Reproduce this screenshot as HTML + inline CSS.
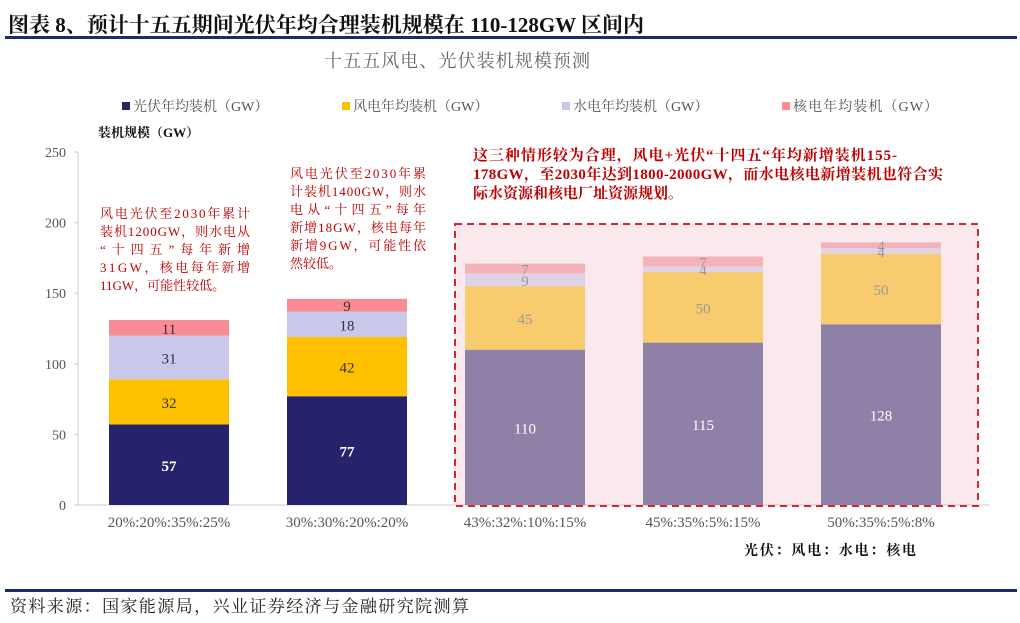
<!DOCTYPE html>
<html><head><meta charset="utf-8"><style>
body{margin:0;background:#fff;width:1020px;height:623px;overflow:hidden;font-family:"Liberation Serif","Noto Serif CJK SC",serif}
svg{position:absolute;left:0;top:0}
</style></head><body>
<svg width="1020" height="623">
<text x="8" y="32" font-size="21" font-weight="bold" fill="#111">图表 8、预计十五五期间光伏年均合理装机规模在 110-128GW 区间内</text>
<rect x="5" y="36" width="1012" height="3" fill="#1f2a6b"/>
<text x="324" y="67" font-size="18" fill="#666" textLength="266">十五五风电、光伏装机规模预测</text>
<g font-size="14" fill="#555">
<rect x="122" y="102" width="8" height="8" fill="#24236B"/><text x="133" y="111">光伏年均装机（GW）</text>
<rect x="342" y="102" width="8" height="8" fill="#FFC000"/><text x="353" y="111">风电年均装机（GW）</text>
<rect x="562" y="102" width="8" height="8" fill="#C9C8EA"/><text x="573" y="111">水电年均装机（GW）</text>
<rect x="782" y="102" width="8" height="8" fill="#F98C93"/><text x="793" y="111" textLength="145">核电年均装机（GW）</text>
</g>
<text x="98" y="137" font-size="13" font-weight="bold" fill="#111">装机规模（GW）</text>
<rect x="455" y="224" width="523" height="282" fill="#FAE9EC"/>
<g id="axes"></g>
<g id="bars"></g>
<rect x="455" y="224" width="523" height="282" fill="none" stroke="#D9262E" stroke-width="2" stroke-dasharray="7,5"/>
<g font-size="13" fill="#C00000">
<text x="100" y="218" textLength="150">风电光伏至2030年累计</text>
<text x="100" y="236" textLength="150">装机1200GW，则水电从</text>
<text x="100" y="254" textLength="150">“十四五”每年新增</text>
<text x="100" y="272" textLength="150">31GW，核电每年新增</text>
<text x="100" y="290">11GW，可能性较低。</text>
</g>
<g font-size="13" fill="#C00000">
<text x="290" y="178" textLength="136">风电光伏至2030年累</text>
<text x="290" y="196" textLength="136">计装机1400GW，则水</text>
<text x="290" y="214" textLength="136">电从“十四五”每年</text>
<text x="290" y="232" textLength="136">新增18GW，核电每年</text>
<text x="290" y="250" textLength="136">新增9GW，可能性依</text>
<text x="290" y="268">然较低。</text>
</g>
<g font-size="15" font-weight="bold" fill="#C00000">
<text x="473" y="160" textLength="424">这三种情形较为合理，风电+光伏“十四五“年均新增装机155-</text>
<text x="473" y="179" textLength="470">178GW，至2030年达到1800-2000GW，而水电核电新增装机也符合实</text>
<text x="473" y="198">际水资源和核电厂址资源规划。</text>
</g>
<text x="744" y="555" font-size="14" font-weight="bold" fill="#111" textLength="172">光伏：风电：水电：核电</text>
<rect x="5" y="589" width="1012" height="3" fill="#1f2a6b"/>
<text x="10" y="612" font-size="17" fill="#222" textLength="459">资料来源：国家能源局，兴业证券经济与金融研究院测算</text>
</svg>
<script>
const categories=["20%:20%:35%:25%","30%:30%:20%:20%","43%:32%:10%:15%","45%:35%:5%:15%","50%:35%:5%:8%"];
const solar=[57,77,110,115,128];
const wind=[32,42,45,50,50];
const hydro=[31,18,9,4,4];
const nuclear=[11,9,7,7,4];
const yTicks=[0,50,100,150,200,250];
const highlighted=[false,false,true,true,true];
const NS="http://www.w3.org/2000/svg";
const x0=80,band=178,bw=120,y0=505,ppu=1.412;
const xs=i=>x0+band*(i+0.5);
const ys=v=>y0-v*ppu;
function mk(t,a,p){const e=document.createElementNS(NS,t);for(const k in a)e.setAttribute(k,a[k]);p.appendChild(e);return e;}
const ax=document.getElementById('axes'),bg=document.getElementById('bars');
mk('line',{x1:78,y1:ys(250),x2:78,y2:y0,stroke:'#ccc'},ax);
mk('line',{x1:78,y1:y0,x2:990,y2:y0,stroke:'#ccc'},ax);
yTicks.forEach(v=>{
  mk('line',{x1:74,y1:ys(v),x2:78,y2:ys(v),stroke:'#ccc'},ax);
  const t=mk('text',{x:66,y:ys(v)+5,'font-size':14,fill:'#555','text-anchor':'end'},ax);
  
  
  t.textContent=v;
});
categories.forEach((c,i)=>{
  const t=mk('text',{x:xs(i),y:527,'font-size':15,fill:'#555','text-anchor':'middle'},ax);
  
  
  t.textContent=c;
});
const series=[[solar,'#24236B','#8E80A6','#fff','#fff'],[wind,'#FFC000','#F8CC6E','#333','#999'],[hydro,'#C9C8EA','#E0D3E5','#333','#999'],[nuclear,'#F98C93','#F6B2BB','#333','#999']];
const names=['solar','wind','hydro','nuclear'];
categories.forEach((c,i)=>{
  let acc=0;
  series.forEach((s,k)=>{
    const v=s[0][i],h=highlighted[i];
    const r=mk('rect',{x:xs(i)-bw/2,y:ys(acc+v),width:bw,height:v*ppu,fill:h?s[2]:s[1]},bg);
    
    
    const t=mk('text',{x:xs(i),y:ys(acc+v/2)+6,'font-size':15,fill:h?s[4]:s[3],'text-anchor':'middle','font-weight':(k==0&&!h)?'bold':'normal'},bg);
    
    
    t.textContent=v;
    acc+=v;
  });
});
</script>
</body></html>
